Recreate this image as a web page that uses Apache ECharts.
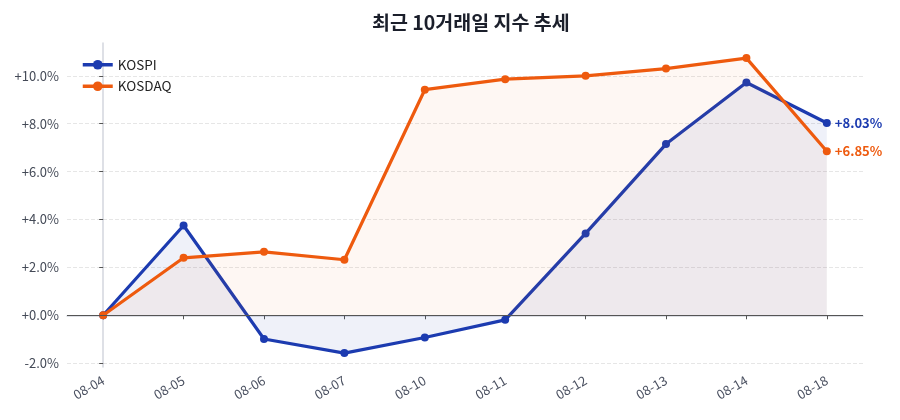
<!DOCTYPE html>
<html>
<head>
<meta charset="utf-8">
<script src="https://cdn.jsdelivr.net/npm/echarts@6/dist/echarts.min.js"></script>
<style>
  html, body { margin: 0; padding: 0; background: #fff; }
  #main { width: 900px; height: 420px; }
</style>
</head>
<body>
<div id="main"></div>
<script>
    // 데이터
    var dates = ['08-04', '08-05', '08-06', '08-07', '08-10', '08-11', '08-12', '08-13', '08-14', '08-18'];
    var kospi = [0, 3.75, -0.99, -1.58, -0.93, -0.19, 3.42, 7.15, 9.72, 8.03];
    var kosdaq = [0, 2.40, 2.65, 2.32, 9.42, 9.86, 10.00, 10.30, 10.74, 6.85];
    var yTicks = [-2, 0, 2, 4, 6, 8, 10];

    var blue = '#1c3bb0';
    var orange = '#ee5a0e';
    var font = '"Noto Sans CJK KR", "Noto Sans", sans-serif';

    // x축은 인덱스 값축으로 (양끝 여백 맞추기 위함)
    var xIdx = dates.map(function (d, i) { return i; });
    function pairs(arr) {
        return arr.map(function (v, i) { return [i, v]; });
    }
    function pct(v) {
        return (v >= 0 ? '+' : '') + v.toFixed(1) + '%';
    }

    var myChart = echarts.init(document.getElementById('main'));

    var option = {
        animation: false,
        textStyle: { fontFamily: font },
        title: {
            text: '최근 10거래일 지수 추세',
            left: 367,
            top: 8,
            textStyle: { fontSize: 19.5, fontWeight: 'bold', color: '#1b1f2b', fontFamily: font }
        },
        legend: {
            data: ['KOSPI', 'KOSDAQ'],
            orient: 'vertical',
            left: 76,
            top: 53,
            itemWidth: 30,
            itemHeight: 12,
            itemGap: 8,
            lineStyle: { width: 3.5 },
            textStyle: { fontSize: 13.5, color: '#222', fontFamily: font }
        },
        grid: {
            top: 43,
            left: 67,
            right: 37,
            bottom: 53,
            containLabel: false
        },
        xAxis: {
            type: 'value',
            min: -0.45,
            max: 9.45,
            axisLine: { show: true, lineStyle: { color: '#d3d6de', width: 1.5 } },
            axisTick: {
                show: true,
                customValues: xIdx,
                length: 4,
                lineStyle: { color: '#555' }
            },
            axisLabel: {
                customValues: xIdx,
                rotate: 30,
                color: '#4a5060',
                fontSize: 13,
                margin: 12,
                formatter: function (v) { return dates[Math.round(v)]; }
            },
            splitLine: { show: false }
        },
        yAxis: {
            type: 'value',
            min: -2.16,
            max: 11.37,
            axisLine: { show: true, lineStyle: { color: '#d3d6de', width: 1.5 } },
            axisTick: {
                show: true,
                customValues: yTicks,
                length: 4,
                lineStyle: { color: '#555' }
            },
            axisLabel: {
                customValues: yTicks,
                color: '#444a57',
                fontSize: 13,
                margin: 8,
                formatter: function (v) { return pct(v); }
            },
            splitLine: { show: true, lineStyle: { color: '#e6e6e6', type: 'dashed' } }
        },
        series: [
            {
                name: 'KOSPI',
                type: 'line',
                data: pairs(kospi),
                color: blue,
                symbol: 'circle',
                symbolSize: 8,
                lineStyle: { width: 3.2, color: blue },
                areaStyle: { color: blue, opacity: 0.07, origin: 0 },
                endLabel: {
                    show: true,
                    distance: 8,
                    color: blue,
                    fontSize: 13,
                    fontWeight: 'bold',
                    formatter: function (p) { return '+' + p.value[1].toFixed(2) + '%'; }
                },
                markLine: {
                    silent: true,
                    symbol: 'none',
                    label: { show: false },
                    lineStyle: { color: '#555', width: 1, type: 'solid' },
                    data: [{ yAxis: 0 }]
                },
                z: 3
            },
            {
                name: 'KOSDAQ',
                type: 'line',
                data: pairs(kosdaq),
                color: orange,
                symbol: 'circle',
                symbolSize: 8,
                lineStyle: { width: 3.2, color: orange },
                areaStyle: { color: orange, opacity: 0.05, origin: 0 },
                endLabel: {
                    show: true,
                    distance: 8,
                    color: orange,
                    fontSize: 13,
                    fontWeight: 'bold',
                    formatter: function (p) { return '+' + p.value[1].toFixed(2) + '%'; }
                },
                z: 4
            }
        ]
    };

    myChart.setOption(option);
    window.addEventListener('resize', function () {
        myChart.resize();
    });
</script>
</body>
</html>
